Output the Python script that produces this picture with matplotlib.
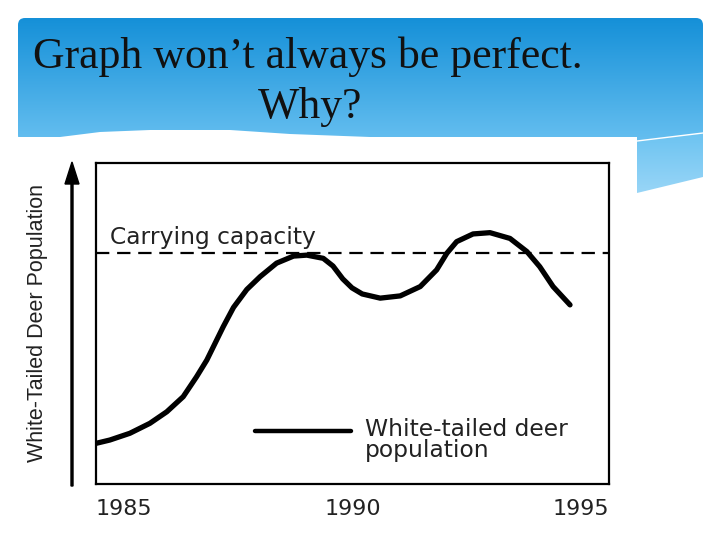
import numpy as np
import matplotlib.pyplot as plt
from matplotlib.colors import LinearSegmentedColormap
from matplotlib.patches import FancyBboxPatch, Polygon, FancyArrow

# ===============================
# Data
# ===============================
years = [1985.01, 1985.27, 1985.66, 1986.05, 1986.38, 1986.70, 1986.96, 1987.16,
         1987.32, 1987.48, 1987.68, 1987.94, 1988.20, 1988.52, 1988.85, 1989.11,
         1989.43, 1989.62, 1989.81, 1989.99, 1990.19, 1990.54, 1990.93, 1991.32,
         1991.64, 1991.84, 1992.03, 1992.35, 1992.68, 1993.07, 1993.40, 1993.65,
         1993.91, 1994.24]
population = [12.7, 13.7, 15.8, 18.9, 22.5, 27.2, 33.4, 38.6,
              43.8, 49.0, 55.0, 60.6, 64.6, 68.8, 71.0, 71.3,
              70.3, 67.9, 63.9, 61.1, 59.2, 57.9, 58.6, 61.5,
              66.7, 71.9, 75.5, 77.9, 78.3, 76.5, 72.4, 67.7,
              61.5, 55.8]
carrying_capacity = 72
tick_years = [1985, 1990, 1995]
tick_labels = ["1985", "1990", "1995"]

# ===============================
# Slide background
# ===============================
fig = plt.figure(figsize=(7.2, 5.4), dpi=100)
bg = fig.add_axes([0, 0, 1, 1])
bg.set_xlim(0, 720)
bg.set_ylim(540, 0)
bg.axis("off")

grad = np.linspace(0, 1, 256).reshape(-1, 1)
hdr_cmap = LinearSegmentedColormap.from_list("hdr", ["#1590d8", "#66bff0"])
hdr = bg.imshow(grad, cmap=hdr_cmap, extent=[18, 703, 142, 18], aspect="auto", zorder=0)
hdr_box = FancyBboxPatch((18, 18), 685, 124, boxstyle="round,pad=0,rounding_size=7",
                         transform=bg.transData, facecolor="none", edgecolor="none")
bg.add_patch(hdr_box)
hdr.set_clip_path(hdr_box)

# white page with the wave cut into the header
wave = Polygon([(0, 540), (0, 137), (60, 137), (100, 132), (150, 130), (230, 130),
                (290, 134), (370, 137), (637, 137), (637, 141), (720, 141), (720, 540)],
               closed=True, facecolor="white", edgecolor="none", zorder=1)
bg.add_patch(wave)

# light blue ribbon at the right
rib_cmap = LinearSegmentedColormap.from_list("rib", ["#6cc3f1", "#9ad6f7"])
rib = bg.imshow(grad, cmap=rib_cmap, extent=[637, 703, 195, 133], aspect="auto", zorder=2)
rib_shape = Polygon([(637, 141), (703, 133), (703, 177), (637, 193)], closed=True,
                    transform=bg.transData, facecolor="none", edgecolor="none")
bg.add_patch(rib_shape)
rib.set_clip_path(rib_shape)
bg.plot([637, 703], [141, 133], color="white", lw=1, zorder=3)

bg.text(33, 68, "Graph won\u2019t always be perfect.", fontfamily="Liberation Serif",
        fontsize=31.5, va="baseline", color="#111111", zorder=4)
bg.text(258, 118, "Why?", fontfamily="Liberation Serif",
        fontsize=31.5, va="baseline", color="#111111", zorder=4)

# y axis arrow + label
bg.add_patch(FancyArrow(72, 486, 0, -324, width=2, head_width=14, head_length=22,
                        length_includes_head=True, color="black", zorder=4))
bg.text(38, 323, "White-Tailed Deer Population", rotation=90, ha="center", va="center",
        fontfamily="Liberation Sans", fontsize=15.5, color="#222222", zorder=4)

# ===============================
# Chart
# ===============================
ax = fig.add_axes([96 / 720, 56 / 540, 513 / 720, 321 / 540])
ax.set_xlim(1985, 1995)
ax.set_ylim(0, 100)

ax.axhline(carrying_capacity, color="black", lw=1.6, dashes=(6, 3.5))
ax.text(1985.27, carrying_capacity + 1.2, "Carrying capacity", fontfamily="DejaVu Sans",
        fontsize=16.8, color="#222222", va="bottom")

ax.plot(years, population, color="black", lw=3.8, solid_capstyle="round",
        solid_joinstyle="round", label="White-tailed deer\npopulation")

leg = ax.legend(loc="center left", bbox_to_anchor=(0.31, 0.137), frameon=False,
                handlelength=4.1, handletextpad=0.6, borderpad=0, borderaxespad=0,
                prop={"family": "DejaVu Sans", "size": 16.8})
for t in leg.get_texts():
    t.set_color("#222222")
    t.set_linespacing(0.9)
# put the sample line level with the first text line
h = leg.legend_handles[0]
h.set_ydata(np.asarray(h.get_ydata()) + 7)
h.set_linewidth(3.2)

ax.set_xticks(tick_years)
ax.set_xticklabels(tick_labels, fontfamily="DejaVu Sans", fontsize=16, color="#222222")
ax.tick_params(axis="x", length=0, pad=11)
labels = ax.get_xticklabels()
labels[0].set_ha("left")
labels[2].set_ha("right")
ax.set_yticks([])
for s in ax.spines.values():
    s.set_linewidth(1.6)

plt.savefig("out.png", dpi=100)
